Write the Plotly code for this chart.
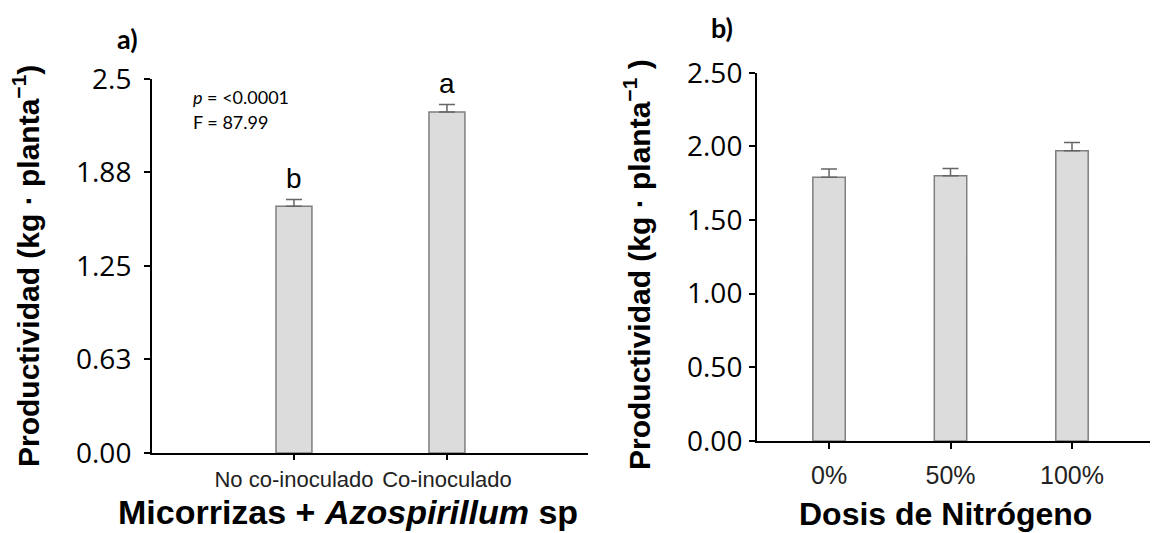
import plotly.graph_objects as go

# panel a: Micorrizas + Azospirillum
cat_a = ["No co-inoculado", "Co-inoculado"]
val_a = [1.65, 2.28]
err_a = [0.045, 0.05]
let_a = ["b", "a"]
yt_a = [0.0, 0.63, 1.25, 1.88, 2.5]
ylab_a = ["0.00", "0.63", "1.25", "1.88", "2.5"]

# panel b: dosis de nitrogeno
cat_b = ["0%", "50%", "100%"]
val_b = [1.79, 1.80, 1.97]
err_b = [0.057, 0.05, 0.057]
yt_b = [0.0, 0.5, 1.0, 1.5, 2.0, 2.5]
ylab_b = ["0.00", "0.50", "1.00", "1.50", "2.00", "2.50"]

# the page body adds an 8px margin, so the figure starts at (8, 8)
OFF = 8
W, H = 1158 - OFF, 533 - OFF
BAR_FILL = "#dcdcdc"
BAR_LINE = "#7f7f7f"
ERR_COL = "#666666"
TICKFONT = dict(family="Open Sans", size=28, color="black")


def px(x):
    return (x - OFF) / W


def py_(y):
    return 1 - (y - OFF) / H


fig = go.Figure()

fig.add_trace(go.Bar(
    x=cat_a, y=val_a, width=0.235,
    marker=dict(color=BAR_FILL, line=dict(color=BAR_LINE, width=1.5)),
    error_y=dict(type="data", array=err_a, symmetric=False, arrayminus=[0, 0],
                 color=ERR_COL, thickness=1.5, width=8),
    xaxis="x", yaxis="y", showlegend=False,
))
fig.add_trace(go.Bar(
    x=cat_b, y=val_b, width=0.267,
    marker=dict(color=BAR_FILL, line=dict(color=BAR_LINE, width=1.5)),
    error_y=dict(type="data", array=err_b, symmetric=False, arrayminus=[0, 0, 0],
                 color=ERR_COL, thickness=1.5, width=8),
    xaxis="x2", yaxis="y2", showlegend=False,
))

axis_common = dict(showline=True, linecolor="black", linewidth=2, ticks="outside",
                   tickcolor="black", tickwidth=2, showgrid=False, zeroline=False,
                   automargin=False)

fig.update_layout(
    width=W, height=H,
    margin=dict(l=0, r=0, t=0, b=0),
    plot_bgcolor="white", paper_bgcolor="white",
    xaxis=dict(domain=[px(152), px(588)], anchor="y", type="category",
               range=[-0.928, 1.922], ticklen=5,
               tickfont=dict(family="Liberation Sans", size=22, color="#222"),
               ticklabelstandoff=1, **axis_common),
    yaxis=dict(domain=[py_(453), py_(79)], anchor="x", range=[0, 2.5],
               tickvals=yt_a, ticktext=ylab_a, ticklen=6, tickfont=TICKFONT,
               ticklabelstandoff=7, **axis_common),
    xaxis2=dict(domain=[px(757), 1.0], anchor="y2", type="category",
                range=[-0.593, 2.708], ticklen=6,
                tickfont=dict(family="Liberation Sans", size=25, color="#222"),
                ticklabelstandoff=5, **axis_common),
    yaxis2=dict(domain=[py_(441), py_(72.7)], anchor="x2", range=[0, 2.5],
                tickvals=yt_b, ticktext=ylab_b, ticklen=6, tickfont=TICKFONT,
                ticklabelstandoff=1, **axis_common),
)

annots = []
# significance letters
for c, v, e, t in zip(cat_a, val_a, err_a, let_a):
    annots.append(dict(x=c, y=v + e, xref="x", yref="y", text=t, showarrow=False,
                       xanchor="center", yanchor="bottom", yshift=3,
                       font=dict(family="Liberation Sans", size=28, color="black")))

# stats text
annots.append(dict(x=px(191), y=py_(97), xref="paper", yref="paper",
                   xanchor="left", yanchor="middle",
                   text="<i>p</i> = <0.0001", showarrow=False,
                   font=dict(family="Lato", size=18, color="black")))
annots.append(dict(x=px(191), y=py_(122), xref="paper", yref="paper",
                   xanchor="left", yanchor="middle",
                   text="F = 87.99", showarrow=False,
                   font=dict(family="Lato", size=18, color="black")))

# panel labels
for lab, x, y in [("a)", 127, 39), ("b)", 722, 28)]:
    annots.append(dict(x=px(x), y=py_(y), xref="paper", yref="paper",
                       xanchor="center", yanchor="middle", text="<b>" + lab + "</b>",
                       showarrow=False, font=dict(family="Lato", size=27, color="black")))

# axis titles
TITLEFONT = dict(family="Liberation Sans", size=30, color="black")
annots.append(dict(x=px(26), y=py_(266), xref="paper", yref="paper", textangle=-90,
                   xanchor="center", yanchor="middle",
                   text="<b>Productividad (kg · planta<sup>−1</sup>)</b>",
                   showarrow=False, font=TITLEFONT))
annots.append(dict(x=px(637), y=py_(265), xref="paper", yref="paper", textangle=-90,
                   xanchor="center", yanchor="middle",
                   text="<b>Productividad (kg · planta<sup>−1</sup> )</b>",
                   showarrow=False, font=TITLEFONT))
annots.append(dict(x=px(348), y=py_(512), xref="paper", yref="paper",
                   xanchor="center", yanchor="middle",
                   text="<b>Micorrizas + <i>Azospirillum</i> sp</b>",
                   showarrow=False, font=dict(family="Liberation Sans", size=34, color="black")))
annots.append(dict(x=px(945), y=py_(514), xref="paper", yref="paper",
                   xanchor="center", yanchor="middle",
                   text="<b>Dosis de Nitrógeno</b>",
                   showarrow=False, font=dict(family="Liberation Sans", size=32, color="black")))

fig.update_layout(annotations=annots)

fig.write_html("out.html")
